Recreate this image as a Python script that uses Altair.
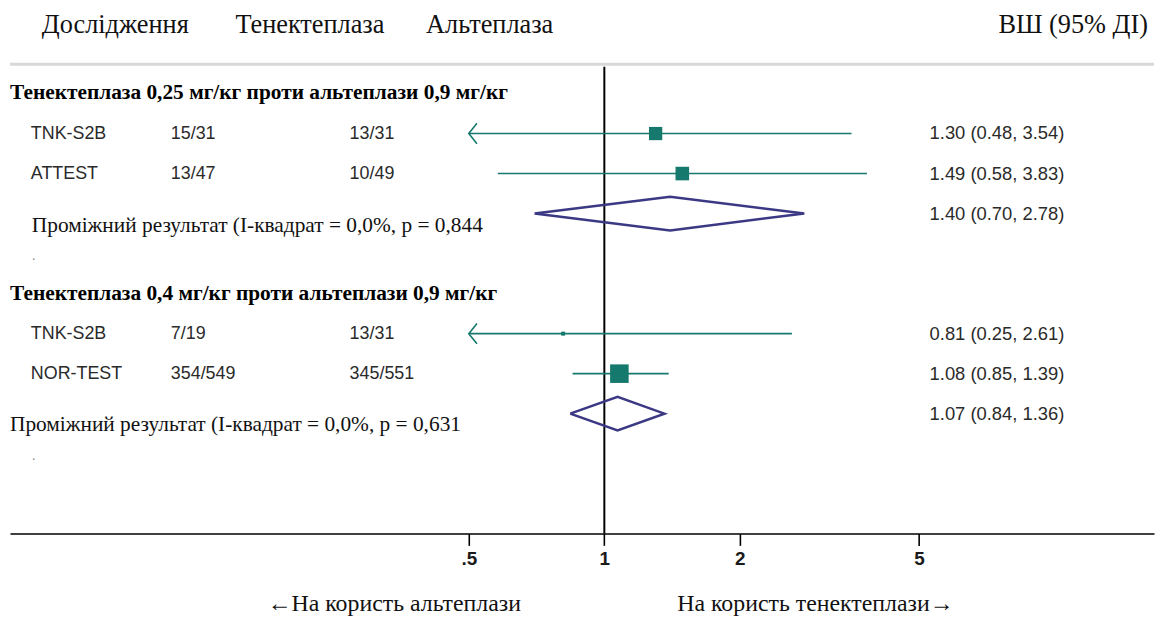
import altair as alt
import pandas as pd

# ---------------- data ----------------
header = ["Дослідження", "Тенектеплаза", "Альтеплаза"]
header_right = "ВШ (95% ДІ)"
groups = ["Тенектеплаза 0,25 мг/кг проти альтеплази 0,9 мг/кг",
          "Тенектеплаза 0,4 мг/кг проти альтеплази 0,9 мг/кг"]

studies = ["TNK-S2B", "ATTEST", "TNK-S2B", "NOR-TEST"]
study_group = [0, 0, 1, 1]
tnk_events = ["15/31", "13/47", "7/19", "354/549"]
alt_events = ["13/31", "10/49", "13/31", "345/551"]
odds_ratio = [1.30, 1.49, 0.81, 1.08]
ci_low = [0.48, 0.58, 0.25, 0.85]
ci_high = [3.54, 3.83, 2.61, 1.39]
weights = [48.7, 51.3, 4.4, 95.6]

subtotal_labels = ["Проміжний результат (І-квадрат = 0,0%, р = 0,844",
                   "Проміжний результат (І-квадрат = 0,0%, р = 0,631"]
subtotal_or = [1.40, 1.07]
subtotal_low = [0.70, 0.84]
subtotal_high = [2.78, 1.36]

x_ticks = [0.5, 1, 2, 5]
favours = ["←На користь альтеплази", "На користь тенектеплази→"]

# ---------------- layout ----------------
W, H = 1152, 527
X_MIN_SHOWN = 0.5
TEAL = "#16796d"
NAVY = "#3b3884"
SERIF = "Liberation Serif"
SANS = "Liberation Sans"

def group_row(g):
    return 1 + 5 * g

study_rows = []
count = {0: 0, 1: 0}
for g in study_group:
    count[g] += 1
    study_rows.append(group_row(g) + count[g])
sub_rows = [group_row(g) + 3 for g in range(len(groups))]
dot_rows = [group_row(g) + 4 for g in range(len(groups))]

xs = alt.Scale(type="log", domain=[0.04785, 16.63], nice=False)
ys = alt.Scale(domain=[-1.084, 11.993], reverse=True, nice=False, zero=False)
xaxis = alt.Axis(values=x_ticks, title=None, grid=False,
                 labelExpr="datum.value == 0.5 ? '.5' : datum.label",
                 labelFont=SANS, labelFontSize=19, labelFontWeight="bold",
                 labelColor="#1a1a1a", labelPadding=4, labelFlush=False)

def fmt(v, lo, hi):
    return f"{v:.2f} ({lo:.2f}, {hi:.2f})"

st = pd.DataFrame({
    "study": studies, "tnk": tnk_events, "alt": alt_events,
    "or": odds_ratio, "lo": ci_low, "hi": ci_high, "w": weights,
    "row": study_rows,
})
st["lo_draw"] = st["lo"].clip(lower=X_MIN_SHOWN)
st["clipped"] = st["lo"] < X_MIN_SHOWN
st["label"] = [fmt(a, b, c) for a, b, c in zip(odds_ratio, ci_low, ci_high)]

sub = pd.DataFrame({"label": subtotal_labels, "or": subtotal_or,
                    "lo": subtotal_low, "hi": subtotal_high, "row": sub_rows})
sub["ci"] = [fmt(a, b, c) for a, b, c in zip(subtotal_or, subtotal_low, subtotal_high)]

HALF = 0.42
dpts = []
for i, r in sub.iterrows():
    pts = [(r["lo"], r["row"]), (r["or"], r["row"] - HALF), (r["hi"], r["row"]),
           (r["or"], r["row"] + HALF), (r["lo"], r["row"])]
    for k, (xv, yv) in enumerate(pts):
        dpts.append({"g": i, "k": k, "x": xv, "y": yv})
dia = pd.DataFrame(dpts)

Y = lambda f: alt.Y(f, scale=ys, axis=None)

# separator & null line
sep = alt.Chart(pd.DataFrame({"row": [0.27]})).mark_rule(
    color="#d8d8d8", strokeWidth=3).encode(
    x=alt.value(0), x2=alt.value(W), y=Y("row:Q"))

null_line = alt.Chart(pd.DataFrame({"x": [1.0], "y1": [0.33], "y2": [11.993]})).mark_rule(
    color="black", strokeWidth=2).encode(
    x=alt.X("x:Q", scale=xs, axis=xaxis), y=Y("y1:Q"), y2="y2:Q")

ci = alt.Chart(st).mark_rule(color=TEAL, strokeWidth=1.6).encode(
    x=alt.X("lo_draw:Q", scale=xs, axis=xaxis), x2="hi:Q", y=Y("row:Q"))

arrows = alt.Chart(st[st["clipped"]]).mark_point(
    shape="M0.8,-1L0,0L0.8,1", filled=False, size=420, strokeWidth=1.6,
    color=TEAL, opacity=1).encode(
    x=alt.X("lo_draw:Q", scale=xs, axis=xaxis), y=Y("row:Q"))

boxes = alt.Chart(st).mark_square(color=TEAL, opacity=1).encode(
    x=alt.X("or:Q", scale=xs, axis=xaxis), y=Y("row:Q"),
    size=alt.Size("w:Q", scale=alt.Scale(domain=[0, 100], range=[0, 365]), legend=None))

diamonds = alt.Chart(dia).mark_line(color=NAVY, strokeWidth=2.5).encode(
    x=alt.X("x:Q", scale=xs, axis=xaxis), y=Y("y:Q"), detail="g:N", order="k:Q")

# texts
def txt(df, field, xpx, **kw):
    return alt.Chart(df).mark_text(**kw).encode(
        x=alt.value(xpx), y=Y("row:Q"), text=f"{field}:N")

hdr_df = pd.DataFrame({"t": header, "row": [-0.7] * 3})
hdr_layers = [txt(hdr_df.iloc[[i]], "t", xp, align="left", font=SERIF, fontSize=26.5, color="#111")
              for i, xp in enumerate([32, 227, 419])]
hdr_r = txt(pd.DataFrame({"t": [header_right], "row": [-0.7]}), "t", 1146,
            align="right", font=SERIF, fontSize=26.5, color="#111")

grp_df = pd.DataFrame({"t": groups, "row": [group_row(g) for g in range(len(groups))]})
grp = txt(grp_df, "t", 0, align="left", font=SERIF, fontSize=21.5, fontWeight="bold", color="#000")

sans_kw = dict(align="left", font=SANS, fontSize=18, color="#2a2a2a")
c_study = txt(st, "study", 21, **sans_kw)
c_tnk = txt(st, "tnk", 162, **sans_kw)
c_alt = txt(st, "alt", 342, **sans_kw)
or_kw = dict(align="left", font=SANS, fontSize=18.5, color="#2a2a2a")
c_or = txt(st, "label", 926, **or_kw)
c_sub_or = txt(sub, "ci", 926, **or_kw)

sub_t1 = txt(sub.iloc[[0]], "label", 22, align="left", font=SERIF, fontSize=21.5, color="#111", dy=13)
sub_t2 = txt(sub.iloc[[1]], "label", 0, align="left", font=SERIF, fontSize=21.5, color="#111", dy=11)

dots = txt(pd.DataFrame({"t": ["."] * 2, "row": dot_rows}), "t", 22,
           align="left", font=SANS, fontSize=14, color="#888", dy=2)

fav = [alt.Chart(pd.DataFrame({"t": [f]})).mark_text(
        align="center", font=SERIF, fontSize=24, color="#111").encode(
        x=alt.value(xp), y=alt.value(598), text="t:N")
       for f, xp in zip(favours, [387, 811])]

chart = alt.layer(
    sep, null_line, ci, arrows, boxes, diamonds,
    *hdr_layers, hdr_r, grp, c_study, c_tnk, c_alt, c_or, c_sub_or,
    sub_t1, sub_t2, dots, *fav
).properties(
    width=W, height=H, padding={"left": 0, "top": 0, "right": 0, "bottom": 0}
).configure_view(stroke=None).configure_axis(
    domainColor="black", domainWidth=1.6, tickColor="black", tickWidth=1.6,
    tickSize=12
)

chart.save("out.html", embed_options={"renderer": "svg", "actions": False})
